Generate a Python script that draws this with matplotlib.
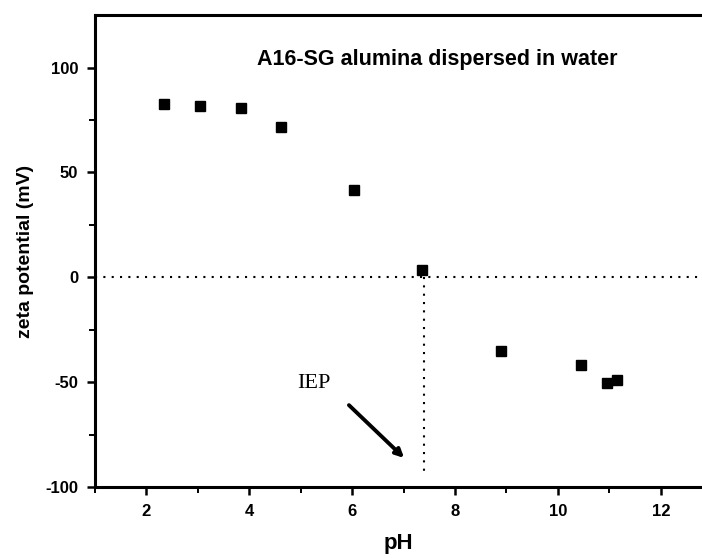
import numpy as np
import matplotlib.pyplot as plt

plt.rcParams['font.family'] = ['Liberation Sans', 'DejaVu Sans']
plt.rcParams['axes.unicode_minus'] = False

ph = [2.35, 3.05, 3.84, 4.62, 6.04, 7.35, 8.9, 10.44, 10.95, 11.15]
zeta = [82.5, 81.5, 80.5, 71.5, 41.5, 3.5, -35, -42, -50.5, -49]
iep = 7.4

fig = plt.figure(figsize=(7.02, 5.58), dpi=100)
ax = fig.add_axes([0.135, 0.127, 0.865, 0.846])

ax.plot(ph, zeta, 's', color='k', ms=6.5)
ax.axhline(0, color='k', ls=(0, (1, 3)), lw=1.5)
ax.plot([iep, iep], [0, -94], color='k', ls=(0, (1, 3)), lw=1.5)

ax.text(7.65, 104, 'A16-SG alumina dispersed in water', ha='center', va='center',
        fontsize=15.5, fontweight='bold')
ax.text(5.25, -50.5, 'IEP', ha='center', va='center', fontsize=16,
        family='Liberation Serif')
ax.annotate('', xy=(7.05, -87), xytext=(5.9, -60),
            arrowprops=dict(arrowstyle='-|>', color='k', lw=2.8, mutation_scale=12))

ax.set_xlim(1, 12.8)
ax.set_ylim(-100, 125)
ax.set_xticks([2, 4, 6, 8, 10, 12])
ax.set_xticks([1, 3, 5, 7, 9, 11], minor=True)
ax.set_yticks([-100, -50, 0, 50, 100])
ax.set_yticks([-75, -25, 25, 75], minor=True)
ax.tick_params(which='major', length=6, width=1.8, labelsize=12, pad=6)
ax.tick_params(which='minor', length=4, width=1.4)
for lab in ax.get_xticklabels() + ax.get_yticklabels():
    lab.set_fontweight('bold')

ax.spines['right'].set_visible(False)
for s in ['left', 'bottom', 'top']:
    ax.spines[s].set_linewidth(2.2)

ax.set_xlabel('pH', fontsize=16, fontweight='bold', labelpad=10)
ax.set_ylabel('zeta potential (mV)', fontsize=14, fontweight='bold', labelpad=8)

fig.savefig('out.png', dpi=100)
